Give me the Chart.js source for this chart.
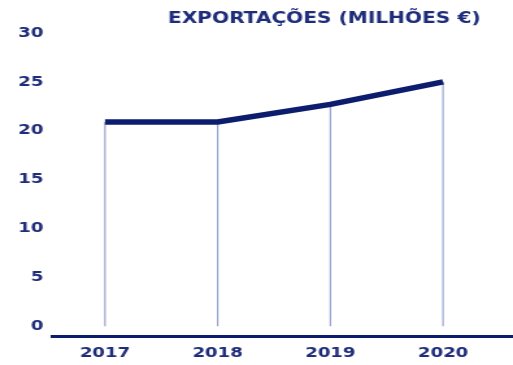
<!DOCTYPE html>
<html>
<head>
<meta charset="utf-8">
<script src="https://cdn.jsdelivr.net/npm/chart.js@4/dist/chart.umd.min.js"></script>
<style>
  html, body { margin: 0; padding: 0; background: #fff; overflow: hidden; }
  #wrap { width: 513px; height: 365px; overflow: hidden; }
  /* the chart is drawn narrow and widened, giving the broad lettering of the original layout */
  #c { display: block; transform: scaleX(1.29873); transform-origin: 0 0; }
</style>
</head>
<body>
<div id="wrap"><canvas id="c" width="395" height="365"></canvas></div>
<script>
// Exports, millions of euros
const years = ['2017', '2018', '2019', '2020'];
const exportsValues = [20.9, 20.9, 22.7, 25.0];
const yTicks = [0, 5, 10, 15, 20, 25, 30];
const chartTitle = 'EXPORTAÇÕES (MILHÕES €)';

const NAVY = '#1e2c79';
const LINE = '#0c1d6d';
const DROP = '#8e9bc9';
const FONT = "'DejaVu Sans', sans-serif";

const points = exportsValues.map((v, i) => ({ x: i, y: v }));

// thin vertical guides from each point down to zero
const dropLines = {
  id: 'dropLines',
  beforeDatasetsDraw(chart) {
    const meta = chart.getDatasetMeta(0);
    const y0 = chart.scales.y.getPixelForValue(0);
    const ctx = chart.ctx;
    ctx.save();
    ctx.strokeStyle = DROP;
    ctx.lineWidth = 1.1;
    meta.data.forEach(pt => {
      ctx.beginPath();
      ctx.moveTo(pt.x, pt.y);
      ctx.lineTo(pt.x, y0);
      ctx.stroke();
    });
    ctx.restore();
  }
};

// heading in the top right corner
const heading = {
  id: 'heading',
  afterDraw(chart) {
    const ctx = chart.ctx;
    ctx.save();
    ctx.font = 'bold 15.5px ' + FONT;
    ctx.fillStyle = NAVY;
    ctx.textAlign = 'right';
    ctx.textBaseline = 'middle';
    ctx.fillText(chartTitle, 370, 19);
    ctx.restore();
  }
};

new Chart(document.getElementById('c'), {
  type: 'line',
  data: {
    datasets: [{
      data: points,
      borderColor: LINE,
      borderWidth: 5.5,
      borderCapStyle: 'butt',
      borderJoinStyle: 'miter',
      pointRadius: 0,
      tension: 0,
      fill: false
    }]
  },
  options: {
    responsive: false,
    animation: false,
    devicePixelRatio: 1,
    layout: { padding: { top: 33, left: 0, right: 0, bottom: 0 } },
    plugins: {
      legend: { display: false },
      tooltip: { enabled: false },
      title: { display: false }
    },
    scales: {
      x: {
        type: 'linear',
        min: -0.471,
        max: 3.621,
        afterBuildTicks(scale) { scale.ticks = years.map((_, i) => ({ value: i })); },
        afterFit(scale) { scale.height = 29; },
        grid: { display: false, drawTicks: false },
        border: { display: true, color: LINE, width: 3 },
        ticks: {
          padding: 9,
          color: NAVY,
          font: { family: FONT, size: 14, weight: 'bold' },
          callback: (v) => years[v]
        }
      },
      y: {
        min: -1,
        max: 30,
        afterBuildTicks(scale) { scale.ticks = yTicks.map(v => ({ value: v })); },
        afterFit(scale) { scale.width = 40; },
        grid: { display: false, drawTicks: false },
        border: { display: false },
        ticks: {
          padding: 6.5,
          color: NAVY,
          font: { family: FONT, size: 14, weight: 'bold' }
        }
      }
    }
  },
  plugins: [dropLines, heading]
});
</script>
</body>
</html>
